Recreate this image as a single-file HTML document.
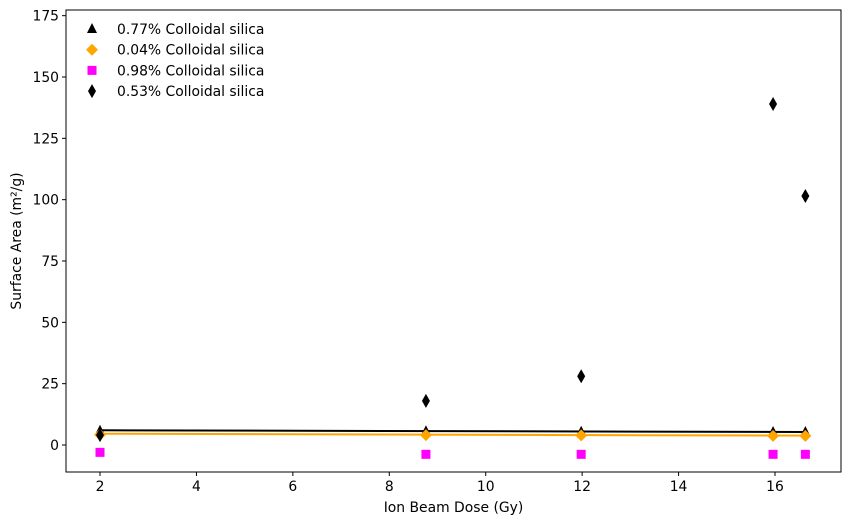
<!DOCTYPE html>
<html><head><meta charset="utf-8"><style>
body{margin:0;background:#fff;}
svg text{font-family:"DejaVu Sans",sans-serif;font-size:13.9px;fill:#000;}
</style></head><body>
<svg id="chart" width="850" height="525"></svg>
<script>
const doses = [2.0, 8.76, 11.98, 15.96, 16.63];
const s077 = [5.8, 5.6, 5.4, 5.3, 5.3];
const s004 = [4.2, 4.0, 3.9, 3.7, 3.7];
const s098 = [-3.0, -3.8, -3.8, -3.8, -3.8];
const s053 = [4.0, 18.0, 28.0, 139.0, 101.5];
const fit077 = [6.0, 5.3];
const fit004 = [4.6, 3.8];
const xTicks = [2, 4, 6, 8, 10, 12, 14, 16];
const yTicks = [0, 25, 50, 75, 100, 125, 150, 175];
const legendLabels = ["0.77% Colloidal silica","0.04% Colloidal silica","0.98% Colloidal silica","0.53% Colloidal silica"];

const NS="http://www.w3.org/2000/svg";
const svg=document.getElementById('chart');
const L=66,R=841,T=10,B=472;
const X=v=>100+(v-2)*(675/14);
const Y=v=>445-v*(368/150);
function mk(t,a,p){const e=document.createElementNS(NS,t);for(const k in a)e.setAttribute(k,a[k]);(p||svg).appendChild(e);return e;}

xTicks.forEach(t=>{
  const g=mk('g',{});
  
  
  mk('line',{x1:X(t),x2:X(t),y1:B,y2:B+4,stroke:'#000'},g);
  const tx=mk('text',{x:X(t),y:B+19,'text-anchor':'middle'},g);tx.textContent=t;
});
yTicks.forEach(t=>{
  const g=mk('g',{});
  
  
  mk('line',{x1:L-4,x2:L,y1:Y(t),y2:Y(t),stroke:'#000'},g);
  const tx=mk('text',{x:L-7,y:Y(t)+5,'text-anchor':'end'},g);tx.textContent=t;
});

const f1=mk('line',{x1:X(doses[0]),x2:X(doses[4]),y1:Y(fit077[0]),y2:Y(fit077[1]),stroke:'#000','stroke-width':2});


const f2=mk('line',{x1:X(doses[0]),x2:X(doses[4]),y1:Y(fit004[0]),y2:Y(fit004[1]),stroke:'orange','stroke-width':2});



function tri(x,y,c,p){return mk('path',{d:`M${x} ${y-6}L${x+5} ${y+4}L${x-5} ${y+4}Z`,fill:c},p);}
function dia(x,y,c,p){return mk('path',{d:`M${x} ${y-6}L${x+6} ${y}L${x} ${y+6}L${x-6} ${y}Z`,fill:c},p);}
function sq(x,y,c,p){return mk('rect',{x:x-4.5,y:y-4.5,width:9,height:9,fill:c},p);}
function thin(x,y,c,p){return mk('path',{d:`M${x} ${y-7}L${x+4} ${y}L${x} ${y+7}L${x-4} ${y}Z`,fill:c},p);}

doses.forEach((d,i)=>{
  let e=tri(X(d),Y(s077[i]),'#000');
  
  
  e=dia(X(d),Y(s004[i]),'orange');
  
  
  e=sq(X(d),Y(s098[i]),'magenta');
  
  
  e=thin(X(d),Y(s053[i]),'#000');
  
  
});

const fr=mk('rect',{x:L,y:T,width:R-L,height:B-T,fill:'none',stroke:'#000'});



const fns=[tri,dia,sq,thin];
const cols=['#000','orange','magenta','#000'];
legendLabels.forEach((lab,i)=>{
  const g=mk('g',{});
  
  
  const y=29+i*20.7;
  fns[i](92,y,cols[i],g);
  const t=mk('text',{x:117,y:y+5},g);t.textContent=lab;
});

const xt=mk('text',{x:(L+R)/2,y:512,'text-anchor':'middle'});xt.textContent='Ion Beam Dose (Gy)';


const yt=mk('text',{x:0,y:0,'text-anchor':'middle',transform:`translate(21 ${(T+B)/2}) rotate(-90)`});yt.textContent='Surface Area (m²/g)';


</script>
</body></html>
